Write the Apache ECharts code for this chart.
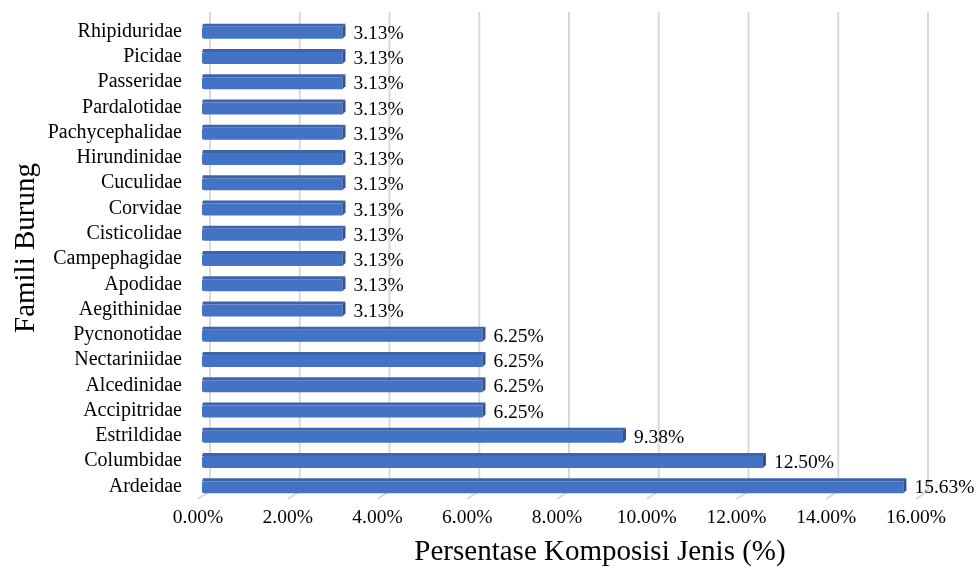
<!DOCTYPE html>
<html><head><meta charset="utf-8">
<script src="https://cdn.jsdelivr.net/npm/echarts@6/dist/echarts.min.js"></script>
<style>html,body{margin:0;padding:0;background:#fff}#c{width:979px;height:570px}</style>
</head><body><div id="c"></div>
<script>
var categories = ['Ardeidae','Columbidae','Estrildidae','Accipitridae','Alcedinidae','Nectariniidae','Pycnonotidae','Aegithinidae','Apodidae','Campephagidae','Cisticolidae','Corvidae','Cuculidae','Hirundinidae','Pachycephalidae','Pardalotidae','Passeridae','Picidae','Rhipiduridae'];
var values = [15.63,12.50,9.38,6.25,6.25,6.25,6.25,3.13,3.13,3.13,3.13,3.13,3.13,3.13,3.13,3.13,3.13,3.13,3.13];
var xTicks = [0,2,4,6,8,10,12,14,16];
var xTitle = 'Persentase Komposisi Jenis (%)';
var yTitle = 'Famili Burung';

var FONT = '"Liberation Serif","Times New Roman",serif';
var chart = echarts.init(document.getElementById('c'), null, {renderer:'canvas'});

var barData = values.map(function(v,i){return [v,i];});
var gridData = xTicks.map(function(t){return [t,0];});

chart.setOption({
  animation:false,
  backgroundColor:'#fff',
  grid:{left:198,right:63,top:19,bottom:71},
  graphic:[
    {type:'text',x:600,y:552,style:{text:xTitle,align:'center',verticalAlign:'middle',font:'29px '+FONT,fill:'#000'}},
    {type:'text',x:26,y:248,rotation:Math.PI/2,style:{text:yTitle,align:'center',verticalAlign:'middle',font:'29px '+FONT,fill:'#000'}}
  ],
  xAxis:{type:'value',min:0,max:16,interval:2,
    axisLine:{show:false},axisTick:{show:false},splitLine:{show:false},
    axisLabel:{fontFamily:FONT,fontSize:19.5,color:'#000',margin:9,
      formatter:function(v){return v.toFixed(2)+'%';}}
  },
  yAxis:{type:'category',data:categories,
    axisLine:{show:false},axisTick:{show:false},
    axisLabel:{interval:0,fontFamily:FONT,fontSize:20,color:'#000',margin:16}
  },
  series:[
    {type:'custom',z:1,data:gridData,encode:{x:0,y:1},silent:true,
      renderItem:function(params,api){
        var cs=params.coordSys;
        var x=api.coord([api.value(0),0])[0];
        var bot=cs.y+cs.height;
        return {type:'group',children:[
          {type:'line',shape:{x1:x+12,y1:cs.y-7,x2:x+12,y2:bot-8},style:{stroke:'#d9d9d9',lineWidth:2}},
          {type:'line',shape:{x1:x,y1:bot,x2:x+12,y2:bot-8},style:{stroke:'#d9d9d9',lineWidth:2}}
        ]};
      }
    },
    {type:'custom',z:2,data:barData,encode:{x:0,y:1},silent:true,
      renderItem:function(params,api){
        var v=api.value(0), idx=api.value(1);
        var p0=api.coord([0,idx]), p1=api.coord([v,idx]);
        var x0=p0[0]+4, x1=p1[0]+4, y=p0[1];
        var top=y-5, bot=y+7, d=3;
        return {type:'group',children:[
          {type:'polygon',shape:{points:[[x0+1,top-d],[x1+d,top-d],[x1,top],[x0,top]]},style:{fill:'#3b64ad'}},
          {type:'rect',shape:{x:x0,y:top,width:x1-x0,height:bot-top,r:[2,0,0,2]},style:{fill:'#4472c4'}},
          {type:'polygon',shape:{points:[[x1,top],[x1+d,top-d],[x1+d,bot-d],[x1,bot]]},style:{fill:'#2f528f'}},
          {type:'text',style:{text:v.toFixed(2)+'%',x:x1+11,y:y+2,verticalAlign:'middle',align:'left',
            font:'19.5px '+FONT,fill:'#000'}}
        ]};
      }
    }
  ]
});
</script></body></html>
